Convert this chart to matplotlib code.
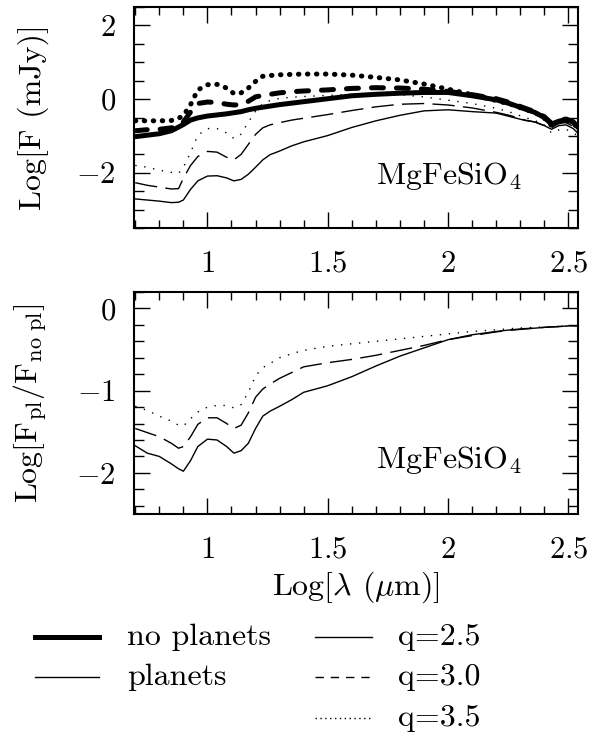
import matplotlib
matplotlib.use("Agg")
import matplotlib.pyplot as plt
from matplotlib.lines import Line2D
from matplotlib.ticker import MultipleLocator, FuncFormatter

plt.rcParams['font.family'] = 'serif'
plt.rcParams['font.serif'] = ['cmr10', 'DejaVu Serif']
plt.rcParams['mathtext.fontset'] = 'cm'
plt.rcParams['axes.formatter.use_mathtext'] = True

# log wavelength grid (micron)
lam = [0.70, 0.75, 0.80, 0.85, 0.88, 0.90, 0.93, 0.96, 1.00, 1.04, 1.08, 1.11,
       1.14, 1.17, 1.20, 1.23, 1.26, 1.30, 1.35, 1.40, 1.50, 1.60, 1.70, 1.80,
       1.90, 2.00, 2.10, 2.20, 2.26, 2.32, 2.36, 2.40, 2.43, 2.46, 2.49, 2.52, 2.54]

# log flux (mJy), disk without planets
nopl_q25 = [-1.02, -0.98, -0.94, -0.86, -0.76, -0.69, -0.57, -0.51, -0.46, -0.43, -0.40, -0.37,
            -0.34, -0.29, -0.25, -0.22, -0.19, -0.15, -0.11, -0.07, 0.01, 0.09, 0.13, 0.16,
            0.18, 0.18, 0.09, -0.02, -0.13, -0.27, -0.36, -0.50, -0.68, -0.60, -0.56, -0.62, -0.77]
nopl_q30 = [-0.86, -0.83, -0.82, -0.78, -0.74, -0.62, -0.35, -0.12, -0.08, -0.09, -0.14, -0.16,
            -0.15, -0.06, 0.06, 0.10, 0.13, 0.17, 0.20, 0.22, 0.25, 0.29, 0.31, 0.30,
            0.27, 0.21, 0.12, 0.01, -0.10, -0.25, -0.34, -0.48, -0.66, -0.58, -0.54, -0.62, -0.78]
nopl_q35 = [-0.59, -0.59, -0.59, -0.58, -0.52, -0.45, -0.15, 0.25, 0.39, 0.40, 0.30, 0.15,
            0.17, 0.30, 0.48, 0.62, 0.64, 0.66, 0.67, 0.68, 0.68, 0.65, 0.59, 0.52,
            0.41, 0.27, 0.12, -0.04, -0.14, -0.28, -0.36, -0.52, -0.72, -0.62, -0.58, -0.66, -0.78]

# log flux (mJy), disk with planets
pl_q25 = [-2.71, -2.74, -2.77, -2.81, -2.80, -2.74, -2.45, -2.22, -2.09, -2.08, -2.14, -2.22,
          -2.18, -2.04, -1.85, -1.65, -1.51, -1.41, -1.27, -1.16, -0.99, -0.77, -0.59, -0.44,
          -0.32, -0.29, -0.34, -0.38, -0.48, -0.58, -0.62, -0.72, -0.82, -0.72, -0.70, -0.80, -0.93]
pl_q30 = [-2.27, -2.34, -2.39, -2.44, -2.43, -2.15, -1.80, -1.56, -1.42, -1.44, -1.58, -1.65,
          -1.50, -1.23, -0.96, -0.78, -0.70, -0.64, -0.57, -0.52, -0.42, -0.31, -0.21, -0.14,
          -0.12, -0.16, -0.24, -0.36, -0.45, -0.57, -0.62, -0.72, -0.78, -0.66, -0.64, -0.74, -0.86]
pl_q35 = [-1.80, -1.85, -1.93, -1.99, -2.02, -1.85, -1.45, -0.98, -0.80, -0.80, -0.92, -1.07,
          -0.95, -0.62, -0.33, -0.12, -0.04, 0.02, 0.05, 0.07, 0.10, 0.13, 0.14, 0.12,
          0.06, -0.03, -0.12, -0.25, -0.36, -0.50, -0.58, -0.70, -0.92, -0.84, -0.82, -0.92, -1.00]

# log of flux ratio planets / no planets
ratio_q25 = [-1.67, -1.76, -1.80, -1.89, -1.95, -1.98, -1.85, -1.68, -1.59, -1.60, -1.68, -1.76,
             -1.73, -1.64, -1.46, -1.31, -1.25, -1.19, -1.11, -1.02, -0.94, -0.83, -0.70, -0.58,
             -0.48, -0.38, -0.32, -0.28, -0.26, -0.245, -0.24, -0.23, -0.225, -0.22, -0.215, -0.21, -0.21]
ratio_q30 = [-1.46, -1.51, -1.56, -1.64, -1.70, -1.68, -1.56, -1.41, -1.33, -1.33, -1.40, -1.46,
             -1.42, -1.27, -1.08, -0.98, -0.92, -0.85, -0.78, -0.71, -0.66, -0.62, -0.57, -0.51,
             -0.45, -0.38, -0.33, -0.285, -0.265, -0.25, -0.24, -0.23, -0.225, -0.22, -0.215, -0.21, -0.21]
ratio_q35 = [-1.19, -1.24, -1.31, -1.37, -1.42, -1.43, -1.34, -1.26, -1.20, -1.18, -1.18, -1.21,
             -1.17, -1.02, -0.82, -0.72, -0.67, -0.60, -0.55, -0.51, -0.46, -0.43, -0.40, -0.37,
             -0.34, -0.31, -0.28, -0.26, -0.245, -0.235, -0.23, -0.225, -0.22, -0.22, -0.215, -0.21, -0.21]

THICK = 3.6
THIN = 1.0
FS = 23
styles = {'solid': '-', 'dash': (0, (16, 6)), 'dot': (0, (1, 5.5))}


def setup_axis(ax, ylim, ymajor, yminor):
    ax.set_xlim(0.695, 2.54)
    ax.set_ylim(*ylim)
    ax.xaxis.set_major_locator(MultipleLocator(0.5))
    ax.xaxis.set_minor_locator(MultipleLocator(0.1))
    ax.yaxis.set_major_locator(MultipleLocator(ymajor))
    ax.yaxis.set_minor_locator(MultipleLocator(yminor))
    fmt = FuncFormatter(lambda v, p: '$%g$' % v)
    ax.xaxis.set_major_formatter(fmt)
    ax.yaxis.set_major_formatter(fmt)
    ax.tick_params(which='both', direction='in', top=True, right=True, width=1.0)
    ax.tick_params(which='major', length=11.5, labelsize=22)
    ax.tick_params(axis='x', which='minor', length=5.5)
    ax.tick_params(axis='y', which='minor', length=7.5)
    ax.tick_params(axis='x', pad=16)
    ax.tick_params(axis='y', pad=13)
    for s in ax.spines.values():
        s.set_linewidth(1.5)


fig = plt.figure(figsize=(5.92, 7.37), dpi=100)

# flux panel
ax1 = fig.add_axes([0.2264, 0.6906, 0.75, 0.2999])
ax1.plot(lam, nopl_q25, 'k-', lw=THICK, solid_capstyle='round')
ax1.plot(lam, nopl_q30, color='k', lw=THICK, linestyle=(0, (2.4, 2.6)), dash_capstyle='round')
ax1.plot(lam, nopl_q35, color='k', lw=THICK, linestyle=(0, (0.1, 1.7)), dash_capstyle='round')
ax1.plot(lam, pl_q25, color='k', lw=THIN, linestyle=styles['solid'])
ax1.plot(lam, pl_q30, color='k', lw=THIN, linestyle=styles['dash'])
ax1.plot(lam, pl_q35, color='k', lw=THIN, linestyle=styles['dot'])
setup_axis(ax1, (-3.5, 2.5), 2, 0.5)
ax1.set_ylabel('Log[F (mJy)]', fontsize=FS, labelpad=20)
ax1.text(1.70, -2.30, 'MgFeSiO$_4$', fontsize=FS, ha='left', va='baseline')

# ratio panel
ax2 = fig.add_axes([0.2264, 0.3026, 0.75, 0.3012])
ax2.plot(lam, ratio_q25, color='k', lw=THIN, linestyle=styles['solid'])
ax2.plot(lam, ratio_q30, color='k', lw=THIN, linestyle=styles['dash'])
ax2.plot(lam, ratio_q35, color='k', lw=THIN, linestyle=styles['dot'])
setup_axis(ax2, (-2.5, 0.2), 1, 0.2)
ax2.set_ylabel(r'Log[F$_{\rm pl}$/F$_{\rm no\ pl}$]', fontsize=FS, labelpad=20)
ax2.set_xlabel(r'Log[$\lambda$ ($\mu$m)]', fontsize=FS, labelpad=4)
ax2.text(1.70, -1.94, 'MgFeSiO$_4$', fontsize=FS, ha='left', va='baseline')

fig.align_ylabels([ax1, ax2])

# key below the panels (pixel positions, origin top-left)
W, H = 592.0, 737.0


def key(x0, x1, y, lw, ls, label, xt):
    fig.add_artist(Line2D([x0 / W, x1 / W], [1 - y / H, 1 - y / H], color='k',
                          lw=lw, linestyle=ls, transform=fig.transFigure))
    fig.text(xt / W, 1 - (y + 8) / H, label, fontsize=FS, ha='left', va='baseline')


key(35, 99, 637, THICK, '-', 'no planets', 127)
key(35, 99, 677, THIN, '-', 'planets', 127)
key(315, 372, 637, THIN, '-', 'q=2.5', 398)
key(315, 372, 677, THIN, (0, (6, 5)), 'q=3.0', 398)
key(315, 372, 718, THIN, (0, (1, 2.5)), 'q=3.5', 398)

fig.savefig('out.png', dpi=100)
